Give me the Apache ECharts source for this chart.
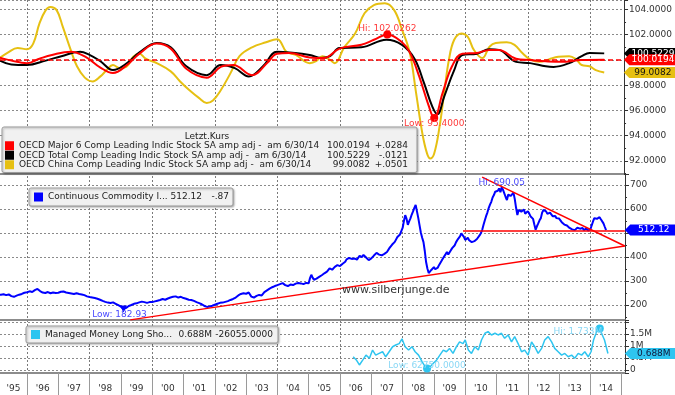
<!DOCTYPE html>
<html><head><meta charset="utf-8">
<script src="https://cdn.jsdelivr.net/npm/echarts@6/dist/echarts.min.js"></script>
<style>html,body{margin:0;padding:0;background:#fff}#c{width:675px;height:395px}</style>
</head><body><div id="c"></div>
<script>
// ---------- data ----------
const firstYearLabel = ["'95"];
const yearLabels = ["'96","'97","'98","'99","'00","'01","'02","'03","'04","'05","'06","'07","'08","'09","'10","'11","'12","'13","'14"];

const major6Name = 'OECD Major 6 Comp Leading Indic Stock SA amp adj';
const totalName = 'OECD Total Comp Leading Indic Stock SA amp adj';
const chinaName = 'OECD China Comp Leading Indic Stock SA amp adj';
const oecdNames = [major6Name, totalName, chinaName];
const oecdLast = ['100.0194', '100.5229', '99.0082'];
const oecdChange = ['+.0284', '-.0121', '+.0501'];
const oecdDate = 'am 6/30/14';
const legendTitle = 'Letzt.Kurs';

const major6 = [[1995.1,100.2],[1995.5,99.95],[1996.0,99.75],[1996.4,100.1],[1996.8,100.4],[1997.4,100.65],[1997.9,100.2],[1998.35,99.4],[1998.75,98.97],[1999.2,99.6],[1999.6,100.5],[2000.15,101.3],[2000.6,100.9],[2001.1,99.3],[2001.75,98.6],[2002.2,99.45],[2002.6,99.6],[2003.2,98.8],[2003.7,99.8],[2004.0,100.5],[2004.4,100.55],[2005.05,100.2],[2005.5,100.15],[2006.0,100.9],[2006.7,101.2],[2007.1,101.6],[2007.53,102.0262],[2008.0,101.4],[2008.25,100.6],[2008.55,98.7],[2008.85,96.4],[2009.03,95.4],[2009.3,97.4],[2009.6,99.5],[2009.93,100.5],[2010.4,100.55],[2010.8,100.8],[2011.1,100.8],[2011.65,100.1],[2012.1,100.0],[2012.6,99.9],[2013.1,99.85],[2013.75,100.0],[2014.47,100.0194]];

const total = [[1995.1,100.0],[1995.5,99.65],[1996.0,99.6],[1996.6,99.95],[1997.1,100.3],[1997.7,100.65],[1998.0,100.4],[1998.35,99.9],[1998.75,99.2],[1999.2,99.75],[1999.6,100.6],[2000.15,101.35],[2000.6,101.0],[2001.1,99.5],[2001.75,98.8],[2002.2,99.6],[2002.65,99.35],[2003.1,98.7],[2003.55,99.5],[2004.0,100.65],[2004.4,100.6],[2005.05,100.4],[2005.4,100.15],[2005.7,100.3],[2006.0,100.95],[2006.7,101.0],[2007.5,101.6],[2008.0,101.2],[2008.4,100.1],[2008.7,98.2],[2008.97,96.3],[2009.13,95.7],[2009.35,97.1],[2009.67,99.2],[2009.93,100.4],[2010.4,100.5],[2010.8,100.85],[2011.1,100.8],[2011.65,99.85],[2012.1,99.75],[2012.6,99.5],[2012.85,99.45],[2013.35,99.75],[2013.75,100.3],[2014.0,100.55],[2014.47,100.5229]];

const china = [[1995.1,100.1],[1995.4,100.6],[1995.7,100.95],[1996.0,100.85],[1996.2,101.3],[1996.4,102.9],[1996.6,103.95],[1996.75,104.2],[1996.95,103.95],[1997.15,102.6],[1997.4,100.8],[1997.6,99.5],[1997.85,98.6],[1998.1,98.3],[1998.35,98.7],[1998.55,99.2],[1998.75,99.6],[1998.97,99.35],[1999.2,99.5],[1999.4,100.25],[1999.6,100.5],[1999.8,100.1],[2000.15,99.75],[2000.6,99.1],[2000.9,98.3],[2001.2,97.6],[2001.5,97.0],[2001.75,96.6],[2001.95,96.8],[2002.2,97.6],[2002.5,98.9],[2002.8,100.3],[2003.2,101.0],[2003.65,101.4],[2004.0,101.65],[2004.1,101.5],[2004.3,100.65],[2004.6,100.4],[2005.05,99.75],[2005.25,99.9],[2005.45,100.3],[2005.7,100.0],[2005.85,99.75],[2006.15,101.0],[2006.5,102.1],[2006.8,103.7],[2007.1,104.35],[2007.45,104.5],[2007.75,103.95],[2008.0,102.4],[2008.25,100.55],[2008.45,97.4],[2008.65,94.2],[2008.8,92.6],[2008.9,92.2],[2009.03,92.6],[2009.2,94.7],[2009.35,97.4],[2009.5,100.0],[2009.67,101.6],[2009.9,102.1],[2010.1,101.85],[2010.3,100.8],[2010.57,100.15],[2010.8,101.05],[2011.0,101.35],[2011.35,101.4],[2011.6,101.2],[2011.85,100.55],[2012.1,100.05],[2012.4,99.85],[2012.7,100.05],[2013.0,100.25],[2013.35,100.3],[2013.57,100.05],[2013.75,99.6],[2014.0,99.5],[2014.2,99.2],[2014.47,99.0082]];

const cciName = 'Continuous Commodity I...';
const cciLast = '512.12';
const cciChange = '-.87';
const cciStartYear = 1995;
// month-start readings, Jan 1995 .. Jul 2014
const cciMonthly = [
  238,241,243,245,241,244,237,234,239,243,246,251,
  253,257,254,262,267,258,252,250,254,249,252,250,
  251,255,256,252,250,248,246,249,246,244,241,236,
  233,231,229,226,222,217,213,210,208,211,205,199,
  193,182.93,188,196,200,205,207,211,214,212,209,212,
  212,215,218,221,225,222,227,231,234,236,231,234,
  229,226,222,221,217,212,208,203,196,192,194,197,
  201,205,209,210,213,216,221,225,231,240,246,249,
  247,252,235,231,238,242,240,254,261,268,274,279,
  283,287,291,283,279,285,283,289,292,290,287,292,
  291,326,305,310,317,324,332,339,353,347,359,366,
  362,372,380,398,401,386,392,397,403,409,398,387,
  394,406,417,410,407,413,421,438,452,463,483,494,
  521,574,534,561,590,617,563,501,462,379,333,346,
  358,344,367,385,401,421,414,437,449,471,486,500,
  471,480,464,458,471,479,499,533,570,604,630,658,
  680,686,690.05,672,637,667,658,641,575,604,587,580,
  591,570,559,514,540,562,596,590,575,581,566,562,
  560,545,535,531,521,515,512,522,518,521,514,510,
  515,548,567,560,557,540,512.12
];
// mid-month readings between consecutive month starts
const cciMidMonth = [
  237,244,241,246,240,245,234,237,238,246,244,254,
  258,252,259,264,262,255,251,253,249,253,248,254,
  255,253,257,249,251,245,249,245,247,241,240,235,
  230,232,226,225,218,216,210,211,207,206,203,195,
  186,187,191,197,204,203,210,213,211,213,210,214,
  216,214,221,223,221,226,228,233,232,233,235,230,
  225,226,219,220,213,210,204,199,193,195,193,200,
  204,206,207,213,212,219,222,229,235,237,248,251,
  253,244,230,236,236,244,247,256,264,266,278,281,
  288,285,286,280,284,281,288,286,294,287,291,289,
  312,314,303,316,315,330,330,347,345,355,357,368,
  369,375,390,396,392,394,389,405,400,401,390,392,
  402,410,412,414,405,418,427,430,458,470,480,508,
  550,560,548,577,605,590,532,480,425,352,340,352,
  349,356,372,395,412,410,428,431,462,466,498,484,
  478,470,462,466,475,490,512,552,585,618,648,672,
  676,670,680,650,660,655,668,605,596,589,598,584,
  582,566,535,528,553,585,588,580,585,570,571,556,
  552,540,538,525,524,510,518,516,524,512,519,516,
  532,562,559,566,550,526
];
const supportLine = [[1999.3,138],[2015.1,446]];
const resistanceLine = [[2010.54,733],[2015.1,446]];
const flatLine = [[2009.93,508],[2015.1,508]];
const watermark = 'www.silberjunge.de';

const mmName = 'Managed Money Long Sho...';
const mmLast = '0.688M';
const mmChange = '-26055.0000';
const mm = [[2006.42,0.55],[2006.52,0.42],[2006.62,0.21],[2006.73,0.42],[2006.83,0.62],[2006.94,0.49],[2007.04,0.83],[2007.14,0.62],[2007.25,0.69],[2007.36,0.76],[2007.46,0.55],[2007.57,0.76],[2007.68,0.97],[2007.78,1.04],[2007.89,1.1],[2007.98,1.3],[2008.08,0.97],[2008.19,0.83],[2008.3,0.97],[2008.4,0.76],[2008.51,0.62],[2008.62,0.35],[2008.72,0.14],[2008.78,0.06275],[2008.88,0.14],[2008.98,0.28],[2009.09,0.42],[2009.19,0.62],[2009.3,0.83],[2009.4,0.76],[2009.5,0.9],[2009.61,0.69],[2009.72,0.97],[2009.82,1.17],[2009.93,1.1],[2010.0,1.25],[2010.1,0.83],[2010.2,0.69],[2010.31,0.97],[2010.42,0.83],[2010.52,1.25],[2010.63,1.53],[2010.73,1.6],[2010.84,1.46],[2010.95,1.53],[2011.05,1.46],[2011.16,1.53],[2011.26,1.32],[2011.37,1.46],[2011.48,1.17],[2011.58,1.39],[2011.69,1.1],[2011.8,0.76],[2011.9,0.83],[2012.01,0.62],[2012.12,1.17],[2012.22,0.97],[2012.33,0.69],[2012.44,0.9],[2012.54,1.25],[2012.65,1.39],[2012.76,1.17],[2012.86,0.9],[2012.97,0.76],[2013.08,0.62],[2013.18,0.69],[2013.29,0.55],[2013.4,0.62],[2013.5,0.49],[2013.61,0.69],[2013.72,0.62],[2013.82,0.76],[2013.93,0.55],[2014.02,0.76],[2014.1,1.25],[2014.2,1.6],[2014.3,1.733],[2014.38,1.46],[2014.45,1.25],[2014.56,0.688]];

// ---------- chart ----------
const FONT = 'DejaVu Sans';
const X0 = 1995.137, X1 = 2015.105, XT = 2015.1;
const chart = echarts.init(document.getElementById('c'));

const cciData = [];
cciMonthly.forEach((v, i) => {
  const t = cciStartYear + i / 12;
  cciData.push([t, v]);
  if (i < cciMidMonth.length) cciData.push([t + 1 / 24, cciMidMonth[i]]);
});

const dataX = i => ({gridIndex:i, type:'value', min:X0, max:X1,
  axisLine:{show:true, onZero:false, lineStyle:{color:'#8c8c8c', width:2}},
  axisTick:{show:false}, axisLabel:{show:false}, splitLine:{show:false}});
const yCommon = {type:'value', position:'right',
  axisLine:{show:true, lineStyle:{color:'#333', width:1}},
  axisTick:{show:true, length:4, lineStyle:{color:'#333'}},
  minorTick:{show:true, splitNumber:2, length:2, lineStyle:{color:'#333'}},
  splitLine:{show:true, lineStyle:{color:'#8a8a8a', type:[2,2]}},
  axisLabel:{fontSize:9, fontFamily:FONT, color:'#333', margin:5, showMinLabel:false, showMaxLabel:false}};
const yearAxis = (gi, data, ticks) => ({gridIndex:gi, type:'category', data:data, boundaryGap:true, position:'bottom',
  axisLine:{show:false},
  axisTick:{show:ticks, interval:0, length:22, lineStyle:{color:'#9a9a9a'}},
  axisLabel:{interval:0, margin:11, fontSize:9, fontFamily:FONT, color:'#333'},
  splitLine:{show:false}});

const TAG = 'path://M0,6L6,0L60,0L60,12L6,12Z';
function tag(y, text, bg, fg) {
  return {coord:[XT, y], symbol:TAG, symbolSize:[54,11], symbolOffset:[27,0], symbolKeepAspect:false,
    itemStyle:{color:bg},
    label:{show:true, position:'inside', formatter:text, color:fg, fontSize:9, fontFamily:FONT, offset:[2,0]}};
}
function lineSeries(name, gi, data, color, width, extra) {
  return Object.assign({type:'line', name:name, xAxisIndex:gi, yAxisIndex:gi, data:data,
    symbol:'none', showSymbol:false, animation:false,
    lineStyle:{color:color, width:width}, itemStyle:{color:color}}, extra || {});
}
function legendRich(w) {
  const base = {fontSize:9, fontFamily:FONT, color:'#222', lineHeight:w.lh};
  return {n:Object.assign({width:w.n}, base), v:Object.assign({width:w.v, align:'right'}, base), c:Object.assign({width:w.c, align:'right'}, base)};
}
const boxStyle = {backgroundColor:'#f1f1f1', borderColor:'#9b9b9b', borderWidth:1, borderRadius:2,
  shadowColor:'rgba(0,0,0,0.3)', shadowBlur:2, shadowOffsetX:1, shadowOffsetY:1,
  icon:'rect', itemWidth:9, itemHeight:9, selectedMode:false, orient:'vertical', itemGap:0};

const topColors = {[major6Name]:'#ff0000', [totalName]:'#000000', [chinaName]:'#e6c012'};

const option = {
  animation:false,
  grid:[
    {left:0, right:50, top:0, height:174},
    {left:0, right:50, top:174, height:146},
    {left:0, right:50, top:320, height:53},
    {left:27, right:53.3, top:0, height:373},
    {left:27, right:84.6, top:0, height:373},
    {left:0, width:27, top:0, height:373}
  ],
  xAxis:[dataX(0), dataX(1), dataX(2),
    yearAxis(3, yearLabels, true),
    {gridIndex:4, type:'value', min:1996, max:2014, interval:2,
     axisLine:{show:false}, axisTick:{show:false}, axisLabel:{show:false},
     splitLine:{show:true, lineStyle:{color:'#7a7a7a', type:[2,2]}}},
    yearAxis(5, firstYearLabel, false)],
  yAxis:[
    Object.assign({}, yCommon, {gridIndex:0, min:90.97, max:104.75, splitNumber:7,
      axisLabel:Object.assign({}, yCommon.axisLabel, {formatter:v=>v.toFixed(4)})}),
    Object.assign({}, yCommon, {gridIndex:1, min:137.5, max:745.8, splitNumber:6}),
    Object.assign({}, yCommon, {gridIndex:2, min:-0.125, max:2.083, splitNumber:4,
      axisLabel:Object.assign({}, yCommon.axisLabel, {formatter:v=>Math.abs(v)<1e-9?'0':(v>1.9?'':(+v.toFixed(2))+'M')})}),
    {gridIndex:3, type:'value', show:false, min:0, max:1},
    {gridIndex:4, type:'value', show:false, min:0, max:1},
    {gridIndex:5, type:'value', show:false, min:0, max:1}
  ],
  legend:[
    Object.assign({}, boxStyle, {data:oecdNames, left:2, top:127, padding:[14,9,3,3],
      formatter:n=>{const i=oecdNames.indexOf(n); return '{n|'+n+' -  '+oecdDate+'}{v|'+oecdLast[i]+'}{c|'+oecdChange[i]+'}';},
      textStyle:{fontSize:9, fontFamily:FONT, lineHeight:9.5, rich:legendRich({n:313, v:38, c:38, lh:9.5})}}),
    Object.assign({}, boxStyle, {data:[cciName], left:29, top:188, padding:[4,4,4,5],
      formatter:n=>'{n|'+n+'}{v|'+cciLast+'}{c|'+cciChange+'}',
      textStyle:{fontSize:9, fontFamily:FONT, lineHeight:10, rich:legendRich({n:122, v:32, c:27, lh:10})}}),
    Object.assign({}, boxStyle, {data:[mmName], left:26, top:326, padding:[3.5,5,3.5,5],
      formatter:n=>'{n|'+n+'}{v|'+mmLast+'}{c|'+mmChange+'}',
      textStyle:{fontSize:9, fontFamily:FONT, lineHeight:10, rich:legendRich({n:127, v:40, c:61, lh:10})}})
  ],
  graphic:[
    {type:'text', z:100, x:207, y:137, style:{text:legendTitle, align:'center', verticalAlign:'middle', font:'9px "DejaVu Sans"', fill:'#222'}},
    {type:'text', z:100, x:342, y:290, style:{text:watermark, align:'left', verticalAlign:'middle', font:'11px "DejaVu Sans"', fill:'#333'}}
  ],
  series:[
    lineSeries(chinaName, 0, china, topColors[chinaName], 2, {smooth:0.4,
      markPoint:{animation:false, data:[tag(+oecdLast[2], oecdLast[2], '#e6c012', '#111')]}}),
    lineSeries(totalName, 0, total, topColors[totalName], 2, {smooth:0.4,
      markPoint:{animation:false, data:[tag(+oecdLast[1], oecdLast[1], '#000000', '#ffffff')]}}),
    lineSeries(major6Name, 0, major6, topColors[major6Name], 2, {smooth:0.4,
      markLine:{silent:true, animation:false, symbol:'none', label:{show:false},
        lineStyle:{color:'#ff0000', type:[5,3], width:1.5}, data:[{yAxis:100}]},
      markPoint:{animation:false, data:[
        {type:'max', valueDim:'y', symbol:'circle', symbolSize:8, itemStyle:{color:'#ff0000'},
         label:{show:true, position:'inside', offset:[0,-6], formatter:p=>'Hi: '+p.value.toFixed(4), color:'#ff3b3b', fontSize:9, fontFamily:FONT}},
        {type:'min', valueDim:'y', symbol:'circle', symbolSize:8, itemStyle:{color:'#ff0000'},
         label:{show:true, position:'inside', offset:[0,6], formatter:p=>'Low: '+p.value.toFixed(4), color:'#ff3b3b', fontSize:9, fontFamily:FONT}},
        tag(+oecdLast[0], oecdLast[0], '#ff0000', '#ffffff')]}}),
    lineSeries(cciName, 1, cciData, '#0000ff', 2, {
      markPoint:{animation:false, data:[
        {type:'max', valueDim:'y', symbol:'circle', symbolSize:1, itemStyle:{color:'#0000ff'},
         label:{show:true, position:'inside', offset:[0,-5], formatter:p=>'Hi: '+p.value.toFixed(2), color:'#4a4aff', fontSize:9, fontFamily:FONT}},
        {type:'min', valueDim:'y', symbol:'triangle', symbolRotate:180, symbolSize:7, itemStyle:{color:'#0000ff'},
         label:{show:true, position:'inside', offset:[-4,6], formatter:p=>'Low: '+p.value.toFixed(2), color:'#4a4aff', fontSize:9, fontFamily:FONT}},
        tag(+cciLast, cciLast, '#0000ff', '#ffffff')]}}),
    lineSeries('support', 1, supportLine, '#ff0000', 1.5),
    lineSeries('resistance', 1, resistanceLine, '#ff0000', 1.5),
    lineSeries('flat', 1, flatLine, '#ff0000', 1.5),
    lineSeries(mmName, 2, mm, '#2ec5f0', 1.5, {
      markPoint:{animation:false, data:[
        {type:'max', valueDim:'y', symbol:'circle', symbolSize:8, itemStyle:{color:'#2ec5f0'},
         label:{show:true, position:'inside', offset:[-22,3], formatter:p=>'Hi: '+p.value+'M', color:'#8ad8f5', fontSize:9, fontFamily:FONT}},
        {type:'min', valueDim:'y', symbol:'circle', symbolSize:8, itemStyle:{color:'#2ec5f0'},
         label:{show:true, position:'inside', offset:[0,-3], formatter:p=>'Low: '+(p.value*1e6).toFixed(4), color:'#8ad8f5', fontSize:9, fontFamily:FONT}},
        tag(0.688, mmLast, '#2ec5f0', '#10183a')]}})
  ]
};
chart.setOption(option);
</script>
</body></html>
